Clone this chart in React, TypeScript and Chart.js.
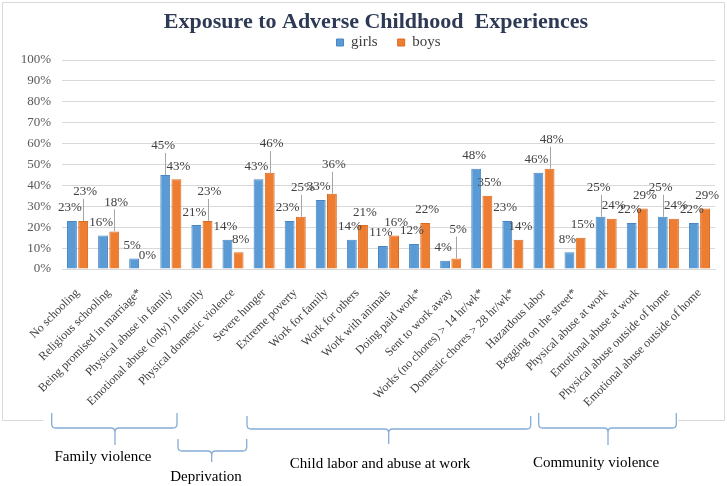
import { useEffect, useRef } from "react";
import { Chart, registerables } from "chart.js";

Chart.register(...registerables);

const TITLE = "Exposure to Adverse Childhood  Experiences";
const categories = [
  "No schooling",
  "Religious schooling",
  "Being promised in marriage*",
  "Physical abuse in family",
  "Emotional abuse (only) in family",
  "Physical domestic violence",
  "Severe hunger",
  "Extreme poverty",
  "Work for family",
  "Work for others",
  "Work with animals",
  "Doing paid work*",
  "Sent to work away",
  "Works (no chores) > 14 hr/wk*",
  "Domestic chores > 28 hr/wk*",
  "Hazardous labor",
  "Begging on the street*",
  "Physical abuse at work",
  "Emotional abuse at work",
  "Physical abuse outside of home",
  "Emotional abuse outside of home",
];
const girls = [23, 16, 5, 45, 21, 14, 43, 23, 33, 14, 11, 12, 4, 48, 23, 46, 8, 25, 22, 25, 22];
const boys = [23, 18, 0, 43, 23, 8, 46, 25, 36, 21, 16, 22, 5, 35, 14, 48, 15, 24, 29, 24, 29];
const seriesNames = ["girls", "boys"];
const groupNames = ["Family violence", "Deprivation", "Child labor and abuse at work", "Community violence"];

const SERIF = '"Liberation Serif", "Times New Roman", serif';

export default function App() {
  const ref = useRef<HTMLCanvasElement | null>(null);

  useEffect(() => {
    const canvas = ref.current;
    if (!canvas) return;

    const framePlugin = {
      id: "frame",
      beforeDraw(chart: any) {
        const ctx = chart.ctx;
        ctx.save();
        ctx.fillStyle = "#ffffff";
        ctx.fillRect(0, 0, chart.width, chart.height);
        ctx.strokeStyle = "#D9D9D9";
        ctx.lineWidth = 1;
        ctx.beginPath();
        ctx.moveTo(43, 420.5);
        ctx.lineTo(2.5, 420.5);
        ctx.lineTo(2.5, 2.5);
        ctx.lineTo(724.5, 2.5);
        ctx.lineTo(724.5, 420.5);
        ctx.lineTo(678, 420.5);
        ctx.stroke();
        ctx.restore();
      },
      afterDraw(chart: any) {
        const ctx = chart.ctx;
        ctx.save();
        // title
        ctx.font = `bold 22px ${SERIF}`;
        ctx.fillStyle = "#2E3A55";
        ctx.textAlign = "center";
        ctx.textBaseline = "alphabetic";
        ctx.fillText(TITLE, 376, 28);
        // group brackets
        const w = chart.width / 727;
        const br = [
          { x1: 51.7, x2: 177, top: 413, h: 428, xm: 115, bot: 445, lx: 103, ly: 457 },
          { x1: 178, x2: 246.7, top: 439, h: 451, xm: 211.7, bot: 462, lx: 206, ly: 477 },
          { x1: 247, x2: 530.7, top: 416, h: 429, xm: 388.7, bot: 444, lx: 380, ly: 464 },
          { x1: 538.7, x2: 676.3, top: 413, h: 428, xm: 608, bot: 445, lx: 596, ly: 463 },
        ];
        ctx.strokeStyle = "#86ACD8";
        ctx.lineWidth = 1.3;
        const r = 4;
        br.forEach((b, i) => {
          const x1 = b.x1 * w, x2 = b.x2 * w, xm = b.xm * w;
          ctx.beginPath();
          ctx.moveTo(x1, b.top);
          ctx.lineTo(x1, b.h - r);
          ctx.quadraticCurveTo(x1, b.h, x1 + r, b.h);
          ctx.lineTo(xm - r, b.h);
          ctx.quadraticCurveTo(xm, b.h, xm, b.h + r);
          ctx.lineTo(xm, b.bot);
          ctx.moveTo(xm, b.h + r);
          ctx.quadraticCurveTo(xm, b.h, xm + r, b.h);
          ctx.lineTo(x2 - r, b.h);
          ctx.quadraticCurveTo(x2, b.h, x2, b.h - r);
          ctx.lineTo(x2, b.top);
          ctx.stroke();
          ctx.font = `15px ${SERIF}`;
          ctx.fillStyle = "#000000";
          ctx.textBaseline = "middle";
          ctx.fillText(groupNames[i], b.lx * w, b.ly);
        });
        ctx.restore();
      },
    };

    const labelPlugin = {
      id: "barLabels",
      afterDatasetsDraw(chart: any) {
        const ctx = chart.ctx;
        const m0 = chart.getDatasetMeta(0);
        const m1 = chart.getDatasetMeta(1);
        ctx.save();
        ctx.font = `13px ${SERIF}`;
        ctx.fillStyle = "#404040";
        ctx.textAlign = "center";
        ctx.textBaseline = "middle";
        ctx.strokeStyle = "#A6A6A6";
        ctx.lineWidth = 1;
        for (let i = 0; i < categories.length; i++) {
          const g = m0.data[i];
          const b = m1.data[i];
          let gy = g.y - 13;
          let by = b.y - 13;
          let gRaised = false;
          let bRaised = false;
          if (Math.abs(gy - by) < 10) {
            if (girls[i] > boys[i]) {
              gy = Math.min(gy, by) - 16;
              gRaised = true;
            } else {
              by = Math.min(gy, by) - 16;
              bRaised = true;
            }
          }
          if (gRaised) {
            ctx.beginPath();
            ctx.moveTo(Math.round(g.x) + 0.5, gy + 7);
            ctx.lineTo(Math.round(g.x) + 0.5, g.y);
            ctx.stroke();
          }
          if (bRaised) {
            ctx.beginPath();
            ctx.moveTo(Math.round(b.x) + 0.5, by + 7);
            ctx.lineTo(Math.round(b.x) + 0.5, b.y);
            ctx.stroke();
          }
          ctx.fillText(`${girls[i]}%`, g.x - 2, gy);
          ctx.fillText(`${boys[i]}%`, b.x + 2, by);
        }
        ctx.restore();
      },
    };

    const legendFix = {
      id: "legendFix",
      beforeInit(chart: any) {
        const lg = chart.legend;
        if (lg) {
          const orig = lg.fit;
          lg.fit = function () {
            orig.call(this);
            this.height = 45;
          };
        }
      },
    };

    const chart = new Chart(canvas, {
      type: "bar",
      data: {
        labels: categories,
        datasets: [
          {
            label: seriesNames[0],
            data: girls,
            backgroundColor: "#5B9BD5",
            borderColor: "#4A86C2",
            borderWidth: 1,
            barPercentage: 0.88,
            categoryPercentage: 0.72,
          },
          {
            label: seriesNames[1],
            data: boys,
            backgroundColor: "#ED7D31",
            borderColor: "#D96B22",
            borderWidth: 1,
            barPercentage: 0.88,
            categoryPercentage: 0.72,
          },
        ],
      },
      options: {
        responsive: false,
        animation: false,
        layout: { padding: { top: 15, left: 0, right: 12, bottom: 0 } },
        plugins: {
          title: { display: false },
          tooltip: { enabled: false },
          legend: {
            display: true,
            position: "top",
            fullSize: false,
            labels: {
              boxWidth: 7,
              boxHeight: 7,
              padding: 20,
              color: "#404040",
              font: { family: SERIF, size: 15 },
            },
          },
        },
        scales: {
          x: {
            grid: { display: false },
            border: { display: true, color: "#D9D9D9" },
            ticks: {
              autoSkip: false,
              maxRotation: 45,
              minRotation: 45,
              padding: 9,
              color: "#404040",
              font: { family: SERIF, size: 12 },
            },
            afterFit(scale: any) {
              scale.height = 217;
            },
          },
          y: {
            min: 0,
            max: 100,
            grid: { color: "#D9D9D9", drawTicks: false },
            border: { display: false },
            ticks: {
              stepSize: 10,
              padding: 11,
              color: "#595959",
              font: { family: SERIF, size: 13 },
              callback: (v: any) => `${v}%`,
            },
            afterFit(scale: any) {
              scale.width = 62;
            },
          },
        },
      },
      plugins: [legendFix, framePlugin, labelPlugin],
    });

    return () => chart.destroy();
  }, []);

  return (
    <div style={{ position: "fixed", left: 0, top: 0, width: 727, height: 486, background: "#fff" }}>
      <canvas ref={ref} width={727} height={486} style={{ display: "block", width: 727, height: 486 }} />
    </div>
  );
}
